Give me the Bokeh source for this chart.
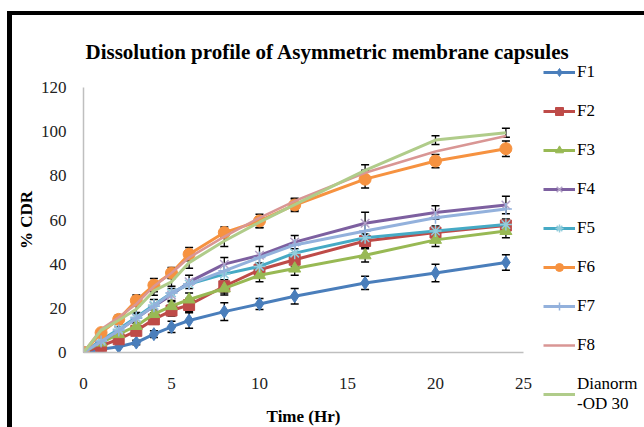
from bokeh.plotting import figure
from bokeh.models import (Range1d, FixedTicker, Legend, LegendItem,
                          Whisker, TeeHead, ColumnDataSource)
from bokeh.embed import file_html
from bokeh.resources import INLINE

# ---- data ----
time_hr = [0, 1, 2, 3, 4, 5, 6, 8, 10, 12, 16, 20, 24]
F1 = [0, 1.5, 2.6, 4.5, 8.3, 11.6, 14.5, 18.5, 22, 25.5, 31.5, 36, 40.8]
F2 = [0, 3, 6, 9.8, 15, 19, 21.5, 30, 37.5, 42, 50.5, 54.3, 57.5]
F3 = [0, 4.5, 8.3, 12, 17.4, 21, 24, 29, 35, 38, 44, 51, 55]
F4 = [0, 5, 10, 15.5, 21, 26, 32, 40, 44, 50, 58.5, 63.4, 66.8]
F5 = [0, 5.5, 10.5, 16, 21.5, 27, 31, 35.5, 39, 45, 52, 55, 58]
F6 = [0, 9, 15, 23.5, 30.5, 36, 44.5, 54.3, 59.6, 66.8, 78.5, 86.7, 92.3]
F7 = [0, 5, 10, 15.5, 21, 27, 31, 37, 43, 48.7, 55, 61, 65]
F8 = [0, 10.5, 16, 22, 30, 36, 43, 52.5, 61, 68.6, 81.4, 91, 98]
DIANORM = [0, 10, 14.6, 19.6, 27.9, 32, 40.7, 50.5, 59, 67, 82.5, 96.2, 99.5]

F1_err = [0, 0, 0, 1, 1.5, 2.5, 3.5, 4, 2.5, 3.5, 3, 4, 3.5]
F2_err = [0, 0, 1, 1.5, 2, 2.5, 3, 3, 3, 3, 3, 3, 3]
F3_err = [0, 0, 1, 1.5, 2, 2.5, 3, 3, 3, 3, 3, 3, 3]
F4_err = [0, 0, 1.5, 2, 3, 3, 3, 3, 4, 3, 5, 3, 4]
F6_err = [0, 0, 2, 2.5, 3, 2.5, 3, 2.5, 3, 3, 4, 3, 3.5]
DIANORM_err = [0, 0, 1, 1.5, 2, 2, 2.5, 2.5, 2.5, 2.5, 2.5, 2, 2]

series_names = ["F1", "F2", "F3", "F4", "F5", "F6", "F7", "F8", "Dianorm\n-OD 30"]
series_values = [F1, F2, F3, F4, F5, F6, F7, F8, DIANORM]
series_errors = [F1_err, F2_err, F3_err, F4_err, None, F6_err, None, None, DIANORM_err]
line_colors = ["#4A7EBB", "#BE4B48", "#98B954", "#7D60A0", "#46AAC5",
               "#F69240", "#93B1DC", "#D99694", "#B0CC8A"]
markers = ["diamond", "square", "triangle", "x", "asterisk", "circle", "cross", None, None]
marker_colors = ["#4A7EBB", "#BE4B48", "#98B954", "#B3A2C7", "#92CDDC",
                 "#F69240", "#93B1DC", None, None]
marker_sizes = [13, 11, 12, 12, 12, 12, 12, 0, 0]

x_ticks = [0, 5, 10, 15, 20, 25]
y_ticks = [0, 20, 40, 60, 80, 100, 120]

FONT = "Liberation Serif"

p = figure(frame_width=440, frame_height=265, output_backend="svg", toolbar_location=None,
           x_range=Range1d(0, 25), y_range=Range1d(0, 120),
           min_border_left=83, min_border_right=120, min_border_top=87,
           min_border_bottom=74,
           title="Dissolution profile of Asymmetric membrane capsules")
p.border_fill_alpha = 0
p.styles = {"box-shadow": ("inset 0 11px 0 0 white, inset 7px 0 0 0 white, "
                           "inset -3px 0 0 0 white, inset 0 15px 0 0 black, "
                           "inset 12px 0 0 0 black, inset -4px 0 0 0 #8c8c8c")}
p.outline_line_color = None
p.grid.grid_line_color = None
p.background_fill_color = "white"

p.title.align = "left"
p.title.offset = 2
p.title.standoff = 47
p.title.text_font = FONT
p.title.text_font_size = "21px"
p.title.text_font_style = "bold"
p.title.text_color = "black"

for ax in (p.xaxis[0], p.yaxis[0]):
    ax.major_tick_line_color = None
    ax.minor_tick_line_color = None
    ax.axis_line_color = "#BFBFBF"
    ax.axis_line_width = 1.5
    ax.major_label_text_font = FONT
    ax.major_label_text_font_size = "17px"
    ax.major_label_text_color = "#222222"
    ax.axis_label_text_font = FONT
    ax.axis_label_text_font_size = "17px"
    ax.axis_label_text_font_style = "bold"
    ax.axis_label_text_color = "black"

p.xaxis.ticker = FixedTicker(ticks=x_ticks)
p.yaxis.ticker = FixedTicker(ticks=y_ticks)
p.xaxis.major_label_standoff = 19
p.yaxis.major_label_standoff = 11
p.xaxis.axis_label = "Time (Hr)"
p.yaxis.axis_label = "% CDR"
p.xaxis.axis_label_standoff = 15
p.yaxis.axis_label_standoff = 2

items = []
for name, vals, errs, lc, mk, mc, ms in zip(series_names, series_values, series_errors,
                                             line_colors, markers, marker_colors, marker_sizes):
    rs = []
    lw = 2.5 if name == "F8" else 3
    rs.append(p.line(time_hr, vals, line_color=lc, line_width=lw))
    if mk is not None:
        if mk in ("x", "asterisk", "cross"):
            rs.append(p.scatter(time_hr, vals, marker=mk, size=ms, line_color=mc,
                                line_width=1.5))
        else:
            rs.append(p.scatter(time_hr, vals, marker=mk, size=ms, fill_color=mc,
                                line_color=mc))
    if errs is not None:
        xs = [t for t, e in zip(time_hr, errs) if e > 0]
        up = [v + e for v, e in zip(vals, errs) if e > 0]
        lo = [v - e for v, e in zip(vals, errs) if e > 0]
        src = ColumnDataSource(dict(t=xs, up=up, lo=lo))
        p.add_layout(Whisker(source=src, base="t", upper="up", lower="lo",
                             line_color="black", line_width=1.3,
                             upper_head=TeeHead(size=8, line_color="black", line_width=1.5),
                             lower_head=TeeHead(size=8, line_color="black", line_width=1.5)))
    items.append(LegendItem(label=name, renderers=rs))

legend = Legend(items=items, location=(20, -62), padding=0, margin=0, spacing=19,
                glyph_width=32, glyph_height=20, label_height=20, label_standoff=2,
                label_text_font=FONT, label_text_font_size="17px",
                label_text_color="black",
                border_line_alpha=0, background_fill_alpha=0)
p.add_layout(legend, "right")

open("out.html", "w").write(file_html(p, INLINE))
